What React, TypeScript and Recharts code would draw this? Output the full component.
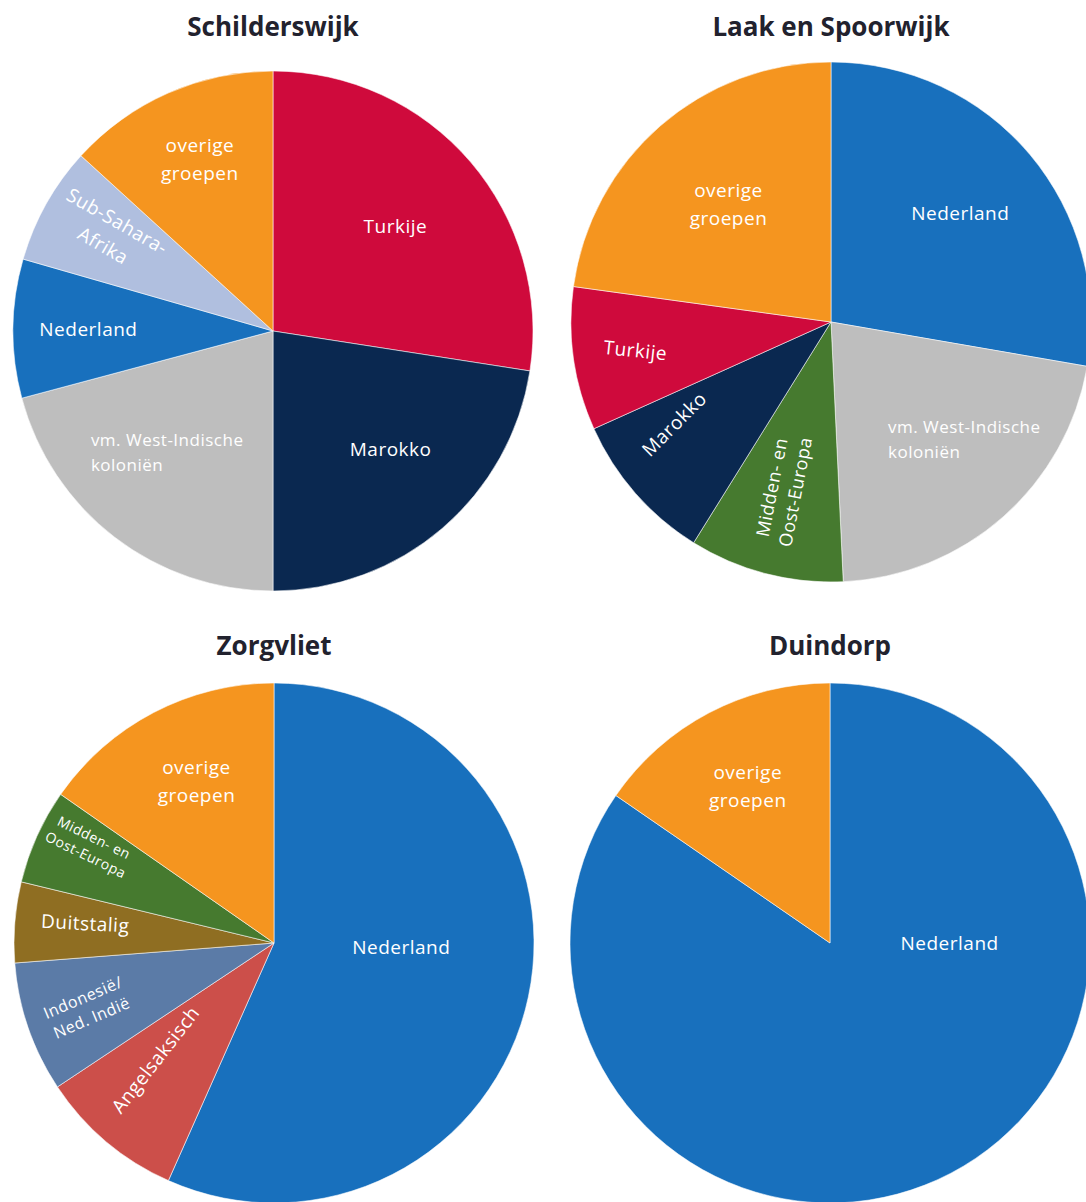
import React from 'react';
import { PieChart, Pie, Cell } from 'recharts';

// shares in %, read clockwise from 12 o'clock
const schilderswijkGroups = ['Turkije', 'Marokko', 'vm. West-Indische koloniën', 'Nederland', 'Sub-Sahara-Afrika', 'overige groepen'];
const schilderswijkShares = [27.4, 22.5, 20.8, 8.6, 7.3, 13.2];

const laakGroups = ['Nederland', 'vm. West-Indische koloniën', 'Midden- en Oost-Europa', 'Marokko', 'Turkije', 'overige groepen'];
const laakShares = [27.7, 21.5, 9.6, 9.4, 8.9, 22.8];

const zorgvlietGroups = ['Nederland', 'Angelsaksisch', 'Indonesië/Ned. Indië', 'Duitstalig', 'Midden- en Oost-Europa', 'overige groepen'];
const zorgvlietShares = [56.6, 9.0, 8.1, 5.0, 5.9, 15.3];

const duindorpGroups = ['Nederland', 'overige groepen'];
const duindorpShares = [84.6, 15.4];

const COLORS: Record<string, string> = {
    'Nederland': '#1870BD',
    'overige groepen': '#F5951F',
    'Turkije': '#CF0A3C',
    'Marokko': '#0A2850',
    'vm. West-Indische koloniën': '#BEBEBE',
    'Sub-Sahara-Afrika': '#B0BFDF',
    'Midden- en Oost-Europa': '#467A2F',
    'Angelsaksisch': '#CC4F4A',
    'Indonesië/Ned. Indië': '#5B7BA7',
    'Duitstalig': '#8F6E22',
};

const LINES: Record<string, string[]> = {
    'vm. West-Indische koloniën': ['vm. West-Indische', 'koloniën'],
    'Sub-Sahara-Afrika': ['Sub-Sahara-', 'Afrika'],
    'overige groepen': ['overige', 'groepen'],
    'Midden- en Oost-Europa': ['Midden- en', 'Oost-Europa'],
    'Indonesië/Ned. Indië': ['Indonesië/', 'Ned. Indië'],
};

// label placement: r = fraction of radius, a = polar angle (defaults to slice middle), rot = text rotation
type LabelPos = { r: number; a?: number; rot?: number; size?: number; anchor?: 'start' | 'middle'; lh?: number };

const SCHILDERSWIJK_LABELS: Record<string, LabelPos> = {
    'Turkije': { r: 0.62 },
    'Marokko': { r: 0.64, a: -45 },
    'vm. West-Indische koloniën': { r: 0.84, a: 213.5, anchor: 'start', size: 17, lh: 25 },
    'Nederland': { r: 0.71 },
    'Sub-Sahara-Afrika': { r: 0.73, a: 149, rot: 30 },
    'overige groepen': { r: 0.72, a: 113 },
};

const LAAK_LABELS: Record<string, LabelPos> = {
    'Nederland': { r: 0.65 },
    'vm. West-Indische koloniën': { r: 0.5, a: -64, anchor: 'start', size: 17, lh: 25 },
    'Midden- en Oost-Europa': { r: 0.67, a: -106, rot: -79, size: 18, lh: 24 },
    'Marokko': { r: 0.72, a: 213, rot: -45 },
    'Turkije': { r: 0.76, rot: 6 },
    'overige groepen': { r: 0.6 },
};

const ZORGVLIET_LABELS: Record<string, LabelPos> = {
    'Nederland': { r: 0.49, a: -2 },
    'Angelsaksisch': { r: 0.64, a: 224.5, rot: -52 },
    'Indonesië/Ned. Indië': { r: 0.76, rot: -23, size: 16, lh: 22 },
    'Duitstalig': { r: 0.73, a: 174, rot: 3 },
    'Midden- en Oost-Europa': { r: 0.8, a: 152, rot: 26, size: 14, lh: 19 },
    'overige groepen': { r: 0.69, a: 115.6 },
};

const DUINDORP_LABELS: Record<string, LabelPos> = {
    'Nederland': { r: 0.46, a: 0 },
    'overige groepen': { r: 0.68 },
};

const RADIAN = Math.PI / 180;
const FONT = '"Open Sans", "DejaVu Sans", sans-serif';

const makeLabel = (layout: Record<string, LabelPos>) => (props: any) => {
    const { cx, cy, midAngle, outerRadius, name } = props;
    const pos = layout[name] || { r: 0.65 };
    const a = pos.a !== undefined ? pos.a : midAngle;
    const R = outerRadius * pos.r;
    const x = cx + R * Math.cos(-a * RADIAN);
    const y = cy + R * Math.sin(-a * RADIAN);
    const lines = LINES[name] || [name];
    const lh = pos.lh || 28;
    const size = pos.size || 19;
    return (
        <text
            x={x}
            y={y}
            fill="#ffffff"
            textAnchor={pos.anchor || 'middle'}
            dominantBaseline="central"
            transform={pos.rot ? `rotate(${pos.rot} ${x} ${y})` : undefined}
            style={{ fontFamily: FONT, fontSize: size, letterSpacing: 0.5 }}
        >
            {lines.map((line, i) => (
                <tspan key={i} x={x} dy={i === 0 ? -((lines.length - 1) / 2) * lh : lh}>
                    {line}
                </tspan>
            ))}
        </text>
    );
};

const toRows = (groups: string[], shares: number[]) => groups.map((name, i) => ({ name, value: shares[i] }));

interface PanelProps {
    title: string;
    groups: string[];
    shares: number[];
    labels: Record<string, LabelPos>;
    left: number;
    top: number;
    cx: number;
    cy: number;
    titleTop: number;
}

function Panel({ title, groups, shares, labels, left, top, cx, cy, titleTop }: PanelProps) {
    const rows = toRows(groups, shares);
    return (
        <>
            <div
                style={{
                    position: 'absolute',
                    left: left + cx - 200,
                    top: titleTop,
                    width: 400,
                    height: 30,
                    lineHeight: '30px',
                    textAlign: 'center',
                    fontFamily: FONT,
                    fontWeight: 700,
                    fontSize: 26,
                    color: '#22222E',
                }}
            >
                {title}
            </div>
            <div style={{ position: 'absolute', left, top, width: 543, height: 601 }}>
                <PieChart width={543} height={601} margin={{ top: 0, right: 0, bottom: 0, left: 0 }}>
                    <Pie
                        data={rows}
                        dataKey="value"
                        nameKey="name"
                        cx={cx}
                        cy={cy}
                        outerRadius={260}
                        startAngle={90}
                        endAngle={-270}
                        stroke="rgba(255,255,255,0.55)"
                        strokeWidth={1}
                        labelLine={false}
                        label={makeLabel(labels)}
                        isAnimationActive={false}
                    >
                        {rows.map((entry, index) => (
                            <Cell key={`cell-${index}`} fill={COLORS[entry.name]} />
                        ))}
                    </Pie>
                </PieChart>
            </div>
        </>
    );
}

export default function App() {
    return (
        <div style={{ position: 'absolute', left: 0, top: 0, width: 1086, height: 1202, overflow: 'hidden', background: '#ffffff' }}>
            <Panel title="Schilderswijk" groups={schilderswijkGroups} shares={schilderswijkShares} labels={SCHILDERSWIJK_LABELS}
                left={0} top={0} cx={273} cy={331} titleTop={11} />
            <Panel title="Laak en Spoorwijk" groups={laakGroups} shares={laakShares} labels={LAAK_LABELS}
                left={543} top={0} cx={288} cy={322} titleTop={11} />
            <Panel title="Zorgvliet" groups={zorgvlietGroups} shares={zorgvlietShares} labels={ZORGVLIET_LABELS}
                left={0} top={601} cx={274} cy={342} titleTop={630} />
            <Panel title="Duindorp" groups={duindorpGroups} shares={duindorpShares} labels={DUINDORP_LABELS}
                left={543} top={601} cx={287} cy={342} titleTop={630} />
        </div>
    );
}
